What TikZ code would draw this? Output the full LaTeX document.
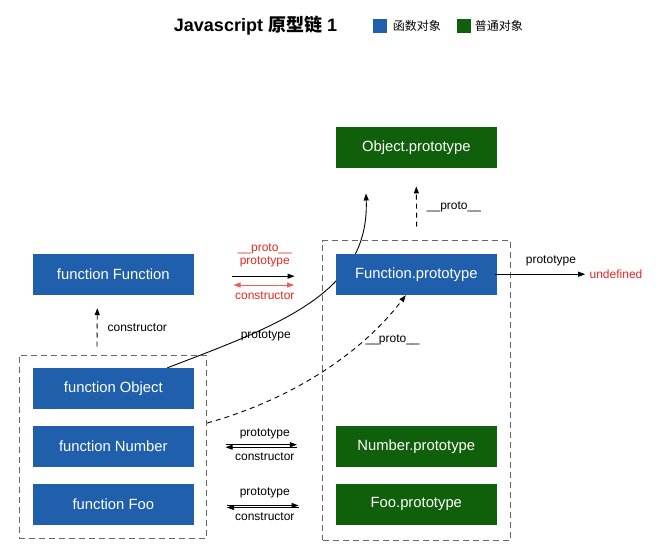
\documentclass[tikz,border=0pt]{standalone}
\usepackage{fontspec}
\setmainfont{Liberation Sans}
\newfontfamily\cjk{Noto Sans CJK SC}
\usetikzlibrary{positioning,arrows.meta,backgrounds}
\definecolor{fnblue}{RGB}{31,95,172}
\definecolor{objgreen}{RGB}{16,95,10}
\definecolor{linkred}{RGB}{232,38,38}
\definecolor{groupgray}{RGB}{102,102,102}

\begin{document}
\begin{tikzpicture}[x=1pt, y=1pt, line width=0.9pt,
  fnbox/.style={fill=fnblue, text=white, minimum width=160.5pt, minimum height=41pt, inner sep=0pt, font=\fontsize{14.8}{17}\selectfont},
  objbox/.style={fnbox, fill=objgreen},
  groupbox/.style={draw=groupgray, dash pattern=on 6pt off 4pt, inner sep=0pt},
  lbl/.style={inner sep=1pt, font=\fontsize{12}{13}\selectfont},
  redlbl/.style={lbl, text=linkred},
  arr/.style={-{Triangle[length=7pt, width=5pt]}},
  biarr/.style={{Triangle[length=7pt, width=5pt]}-{Triangle[length=7pt, width=5pt]}},
  dasharr/.style={arr, dash pattern=on 5pt off 4pt},
  legendkey/.style={minimum size=14pt, inner sep=0pt}]
\useasboundingbox (0,0) rectangle (664,558);

% title and legend
\node (title) at (255.5,532) [font=\fontsize{18}{20}\selectfont\bfseries] {Javascript {\cjk 原型链} 1};
\node (keyfn) at (380,532) [legendkey, fill=fnblue] {};
\node (keyfntext) [right=4pt of keyfn, lbl, font=\cjk\fontsize{12}{13}\selectfont] {函数对象};
\node (keyobj) at (464,532) [legendkey, fill=objgreen] {};
\node (keyobjtext) [right=2pt of keyobj, lbl, font=\cjk\fontsize{12}{13}\selectfont] {普通对象};

% groups
\node (funcgroup) at (113,111.4) [groupbox, minimum width=187.4pt, minimum height=183.3pt] {};
\node (protogroup) at (416.7,167.7) [groupbox, minimum width=188pt, minimum height=299.3pt] {};

% boxes
\node (ffunc) at (113.3,283.8) [fnbox] {function Function};
\node (fobj) at (113.3,169.2) [fnbox] {function Object};
\node (fnum) at (113.3,111.3) [fnbox] {function Number};
\node (ffoo) at (113.3,54) [fnbox] {function Foo};
\node (oproto) at (416.3,410.5) [objbox] {Object.prototype};
\node (fproto) at (416.3,283.8) [fnbox] {Function.prototype};
\node (nproto) at (416.3,111.3) [objbox] {Number.prototype};
\node (fooproto) at (416.3,54) [objbox] {Foo.prototype};
\node (undef) at (616,283.8) [redlbl] {undefined};

% links
\draw[dasharr] ([xshift=-16pt,yshift=8pt]funcgroup.north) -- ([xshift=-16pt,yshift=-13pt]ffunc.south) node[midway, right=9pt, lbl] {constructor};
\draw[dasharr] ([yshift=13.5pt]protogroup.north) -- ([yshift=-18pt]oproto.south) node[midway, right=9pt, lbl] {\_\_proto\_\_};

\draw[arr, shorten <=38pt, shorten >=41pt] ([yshift=-2pt]ffunc.east) -- ([yshift=-2pt]fproto.west) node[midway, above=8pt, redlbl, align=center] {\_\_proto\_\_\\prototype};
\draw[biarr, draw=linkred!75, fill=linkred, shorten <=39.5pt, shorten >=41.5pt] ([yshift=-10.8pt]ffunc.east) -- ([yshift=-10.8pt]fproto.west) node[midway, below=5pt, redlbl] {constructor};

\draw[arr, shorten >=3pt] ([xshift=-2pt]fproto.east) -- (undef.west) node[pos=0.6, above=6.5pt, lbl] {prototype};

\draw[arr, shorten <=31.5pt, shorten >=38.7pt] ([yshift=2pt]fnum.east) -- ([yshift=2pt]nproto.west) node[midway, above=4.5pt, lbl] {prototype};
\draw[arr, shorten <=38.7pt, shorten >=31.5pt] ([yshift=-0.5pt]nproto.west) -- ([yshift=-0.5pt]fnum.east) node[midway, below=3.8pt, lbl] {constructor};

\draw[arr, shorten <=33pt, shorten >=37pt] ([yshift=-1.5pt]ffoo.east) -- ([yshift=-1.5pt]fooproto.west) node[midway, above=5.9pt, lbl] {prototype};
\draw[arr, shorten <=37pt, shorten >=33pt] ([yshift=-3.5pt]fooproto.west) -- ([yshift=-3.5pt]ffoo.east) node[midway, below=3.5pt, lbl] {constructor};

\draw[dasharr] ([yshift=23.6pt]funcgroup.east) .. controls +(15.5:90) and +(-127:70) .. ([xshift=-10.5pt]fproto.south) node[pos=0.72, anchor=west, lbl] {\_\_proto\_\_};

\begin{scope}[on background layer]
\draw[arr, line width=0.9pt] ([xshift=54pt]fobj.north) .. controls +(21:120) and +(-88:100) .. ([xshift=-50.3pt,yshift=-25pt]oproto.south) node[pos=0.32, below=2pt, lbl] {prototype};
\end{scope}
\end{tikzpicture}
\end{document}
